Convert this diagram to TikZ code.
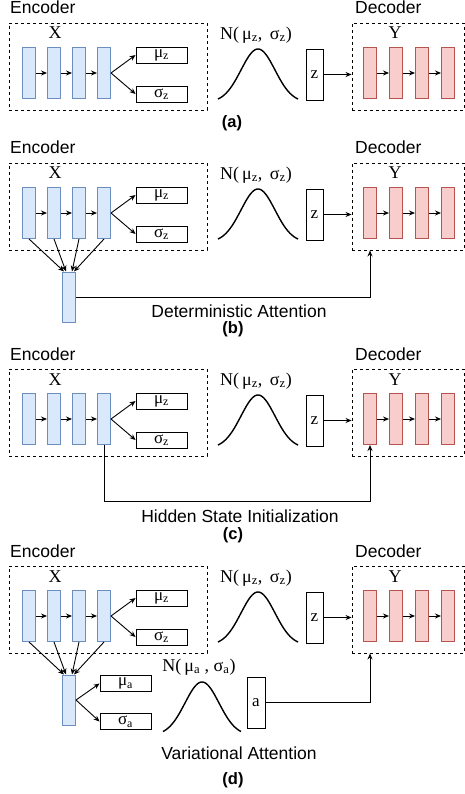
\documentclass[tikz,border=0pt]{standalone}
\usepackage{fontspec}
\setmainfont{Liberation Sans}
\newfontfamily\serifrm{Liberation Serif}
\usepackage{tikz}
\usetikzlibrary{arrows.meta,positioning}
\definecolor{encfill}{HTML}{DAE8FC}
\definecolor{encline}{HTML}{6C8EBF}
\definecolor{decfill}{HTML}{F8CECC}
\definecolor{decline}{HTML}{B85450}
\tikzset{
    lbl/.style={font=\fontsize{17.5}{20}\selectfont,inner sep=0pt},
    tag/.style={font=\fontsize{16.5}{18}\selectfont\bfseries,inner sep=0pt},
    symtext/.style={font=\serifrm\fontsize{18}{20}\selectfont,inner sep=0pt},
    dbox/.style={draw,dash pattern=on 3pt off 3pt,line width=0.9pt,inner sep=0pt},
    enccell/.style={draw=encline,fill=encfill,line width=1pt,minimum width=13pt,minimum height=51pt,inner sep=0pt},
    deccell/.style={draw=decline,fill=decfill,line width=1pt,minimum width=13pt,minimum height=51pt,inner sep=0pt},
    parambox/.style={draw,line width=0.9pt,minimum width=51pt,minimum height=16pt,inner sep=0pt,font=\serifrm\fontsize{17}{18}\selectfont},
    smpbox/.style={draw,line width=0.9pt,minimum width=17pt,minimum height=51pt,inner sep=0pt,font=\serifrm\fontsize{17}{18}\selectfont},
    conn/.style={-{Stealth[length=6pt,width=5pt]},line width=0.9pt},
    bell/.style={line width=1.4pt,smooth}
}
% encoder, latent and decoder, shared by all four panels
\newcommand{\vaepanel}[1]{%
    \node[lbl,anchor=base west] (#1-enclbl) at (10,14) {Encoder};
    \node[dbox,minimum width=198pt,minimum height=87pt] (#1-enc) at (108,66.5) {};
    \node[symtext,anchor=base] (#1-x) at (55,39) {X};
    \foreach \i in {1,...,4}
      \node[enccell] (#1-e\i) at ({29+25*(\i-1)},73) {};
    \foreach \i/\j in {1/2,2/3,3/4}
      \draw[conn] (#1-e\i) -- (#1-e\j);
    \node[parambox] (#1-mu) at (161.5,55) {μ\textsubscript{z}};
    \node[parambox] (#1-sigma) at (161.5,94) {σ\textsubscript{z}};
    \draw[conn] (#1-e4.east) -- (#1-mu.west);
    \draw[conn] (#1-e4.east) -- (#1-sigma.west);
    \node[symtext] (#1-nz) at (256,35) {N(\,μ\textsubscript{z}, \,σ\textsubscript{z})};
    \draw[bell] plot[domain=-40:40,samples=61] ({258+\x},{99-50*(exp(-(\x/17)*(\x/17)/2)-0.063)/0.937});
    \node[smpbox] (#1-z) at (314.5,74.5) {z};
    \node[lbl,anchor=base west] (#1-declbl) at (355,14) {Decoder};
    \node[dbox,minimum width=112pt,minimum height=87pt] (#1-dec) at (408,66.5) {};
    \node[symtext,anchor=base] (#1-y) at (395,39) {Y};
    \foreach \i in {1,...,4}
      \node[deccell] (#1-d\i) at ({370+26*(\i-1)},73) {};
    \foreach \i/\j in {1/2,2/3,3/4}
      \draw[conn] (#1-d\i) -- (#1-d\j);
    \draw[conn] (#1-z.east) -- (#1-z.east -| #1-dec.west);
}

\begin{document}
\begin{tikzpicture}[x=1pt,y=-1pt]
    \useasboundingbox (0,0) rectangle (465,794);
    \begin{scope}
     \vaepanel{a}
     \node[tag] (a-tag) at (232,123) {(a)};
    \end{scope}
    %
    \begin{scope}[shift={(0,140)}]
     \vaepanel{b}
     \node[enccell,minimum height=50pt] (b-att) at (69,157) {};
     \foreach \i/\dx in {1/-5,2/-3,3/3,4/5}
       \draw[conn] (b-e\i.south) -- ([xshift=\dx pt]b-att.north);
     \draw[conn] (b-att.east) -| (b-d1 |- b-dec.south);
     \node[lbl,anchor=base] (b-txt) at (239,177) {Deterministic Attention};
     \node[tag] (b-tag) at (233,189) {(b)};
    \end{scope}
    %
    \begin{scope}[shift={(0,346)}]
     \vaepanel{c}
     \coordinate (c-low) at (0,155);
     \draw[conn] (c-e4.south) -- (c-e4.south |- c-low) -| (c-d1.south);
     \node[lbl,anchor=base] (c-txt) at (240,176) {Hidden State Initialization};
     \node[tag] (c-tag) at (233,189) {(c)};
    \end{scope}
    %
    \begin{scope}[shift={(0,543)}]
     \vaepanel{d}
     \node[enccell,minimum height=50pt] (d-att) at (69,157) {};
     \foreach \i/\dx in {1/-5,2/-3,3/3,4/5}
       \draw[conn] (d-e\i.south) -- ([xshift=\dx pt]d-att.north);
     \node[parambox] (d-mu) at (125.5,140.5) {μ\textsubscript{a}};
     \node[parambox] (d-sigma) at (125.5,178.5) {σ\textsubscript{a}};
     \draw[conn] (d-att.east) -- (d-mu.west);
     \draw[conn] (d-att.east) -- (d-sigma.west);
     \node[symtext] (d-na) at (199,124) {N(\,μ\textsubscript{a} , σ\textsubscript{a})};
     \draw[bell] plot[domain=-39:39,samples=61] ({202+\x},{189-50*(exp(-(\x/17)*(\x/17)/2)-0.063)/0.937});
     \node[smpbox,minimum width=18pt] (d-a) at (256,159.5) {a};
     \draw[conn] (d-a.east) -| (d-d1 |- d-dec.south);
     \node[lbl,anchor=base] (d-txt) at (239,216) {Variational Attention};
     \node[tag] (d-tag) at (233,237) {(d)};
    \end{scope}
\end{tikzpicture}
\end{document}
